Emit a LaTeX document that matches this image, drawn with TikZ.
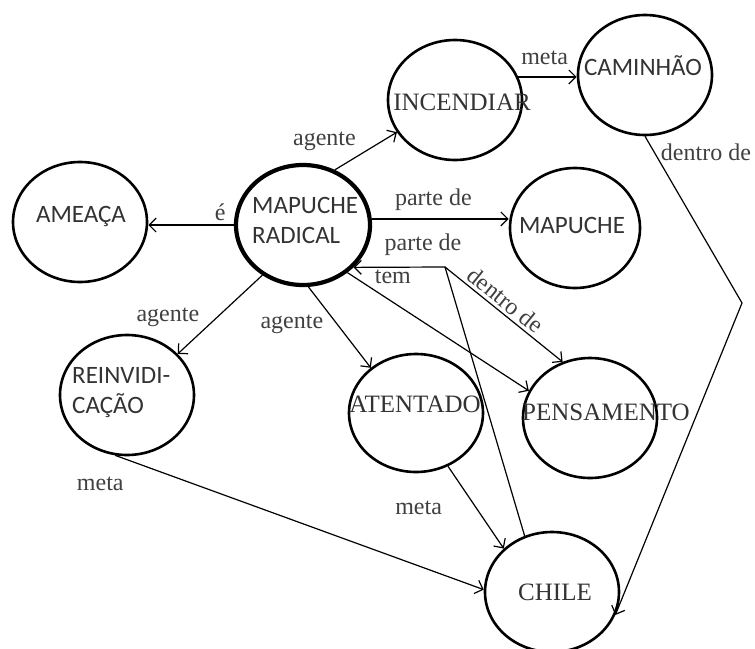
\documentclass[tikz,border=0pt]{standalone}
\usepackage{fontspec}
\setmainfont{Liberation Serif}
\newfontfamily\calibri{Carlito}
\usetikzlibrary{shapes.geometric,arrows.meta}

\tikzset{
  concept/.style={draw, ellipse, line width=2.6pt, minimum width=134pt, minimum height=120pt, inner sep=0pt},
  core/.style={concept, line width=4.2pt},
  sansword/.style={font=\calibri\fontsize{25}{30}\selectfont, text=black!80, align=left, inner sep=0pt},
  serifword/.style={font=\fontsize{25}{30}\selectfont, text=black!80, inner sep=0pt},
  rel/.style={font=\fontsize{24}{26}\selectfont, text=black!75},
  link/.style={line width=1.2pt, -{Straight Barb[length=7pt,width=14pt]}},
}

\begin{document}
\begin{tikzpicture}[x=1pt, y=-1pt]
\useasboundingbox (0,0) rectangle (755,648);
\clip (0,0) rectangle (755,648);

% concepts
\node[concept] (ameaca) at (80,222) {};
\node[core] (radical) at (303,225) {};
\node[concept] (incendiar) at (455,100) {};
\node[concept] (caminhao) at (645,75) {};
\node[concept, minimum width=130pt] (mapuche) at (575,228) {};
\node[concept] (reinv) at (127,395) {};
\node[concept, minimum height=118pt] (atentado) at (416,413) {};
\node[concept] (pensamento) at (590,418) {};
\node[concept] (chile) at (552,592) {};

% words (set on their baselines; two-line ones on the last line)
\node[sansword, anchor=base] (ameaca-t) at (81,222) {AMEAÇA};
\node[sansword, anchor=base west] (radical-t) at (252,243) {MAPUCHE\\RADICAL};
\node[serifword, anchor=base] (incendiar-t) at (462,110) {INCENDIAR};
\node[sansword, anchor=base] (caminhao-t) at (643,75) {CAMINHÃO};
\node[sansword, anchor=base] (mapuche-t) at (572,233) {MAPUCHE};
\node[sansword, anchor=base west] (reinv-t) at (72,413) {REINVIDI-\\CAÇÃO};
\node[serifword, anchor=base] (atentado-t) at (415,412) {ATENTADO};
\node[serifword, anchor=base] (pensamento-t) at (606,420) {PENSAMENTO};
\node[serifword, anchor=base] (chile-t) at (555,600) {CHILE};

% bends
\coordinate (knee) at (445,267);
\coordinate (bendR) at (742,303);

% relations
\draw[link] (radical.west) -- node[rel, pos=.16, above] (e-e) {é} (radical.west -| ameaca.east);
\draw[link] (radical.60) -- node[rel, pos=.4, above left] (e-ag1) {agente} (incendiar.209);
\draw[link] (incendiar.20) -- node[rel, pos=.45, above, yshift=8pt] (e-meta1) {meta} (incendiar.20 -| caminhao.west);
\draw[link] (caminhao.south) node[rel, anchor=north west, xshift=12pt, yshift=-4pt] (e-dentro1) {dentro de}
  -- (bendR) -- (chile.-20);
\draw[link] (radical.5) -- node[rel, pos=.45, above, yshift=4pt] (e-parte1) {parte de} (radical.5 -| mapuche.west);
\draw[link] (chile.116) -- (knee) -- node[rel, pos=.24, above, yshift=8pt] (e-parte2) {parte de} (radical.-40);
\draw[link] (radical.-47) -- node[rel, pos=.13, anchor=south west] (e-tem) {tem} (pensamento.156);
\draw[link] (knee) -- node[rel, pos=.45, sloped, above] (e-dentro2) {dentro de} (pensamento.116);
\draw[link] (radical.231) -- node[rel, pos=.7, anchor=south east] (e-ag2) {agente} (reinv.39);
\draw[link] (radical.-85) -- node[rel, pos=.3, anchor=north east] (e-ag3) {agente} (atentado.135);
\draw[link] (atentado.-59) -- node[rel, pos=.5, left=30pt] (e-meta2) {meta} (chile.138);
\draw[link] (reinv.-101) node[rel, anchor=north, xshift=-15pt, yshift=-18pt] (e-meta3) {meta} -- (chile.178);
\end{tikzpicture}
\end{document}
